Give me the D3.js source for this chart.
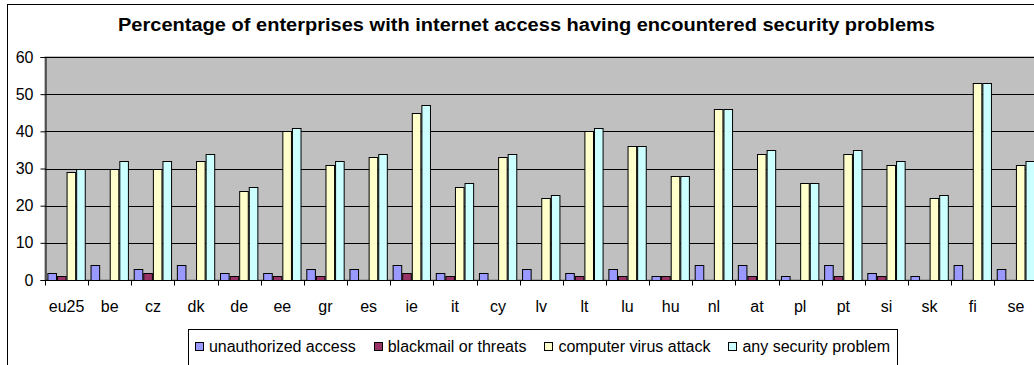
<!DOCTYPE html>
<html>
<head>
<meta charset="utf-8">
<script src="https://cdn.jsdelivr.net/npm/d3@7"></script>
<style>
  html, body { margin: 0; padding: 0; background: #fff; }
  svg { display: block; font-family: "Liberation Sans", Arial, sans-serif; }
</style>
</head>
<body>
<svg id="chart" width="1034" height="365"></svg>
<script>
// Countries (EU25 aggregate first)
const categories = ["eu25","be","cz","dk","de","ee","gr","es","ie","it","cy","lv","lt","lu","hu","nl","at","pl","pt","si","sk","fi","se"];

// Percentages per country
const unauthorizedAccess = [2,4,3,4,2,2,3,3,4,2,2,3,2,3,1,4,4,1,4,2,1,4,3];
const blackmailThreats   = [1,0,2,0,1,1,1,0,2,1,0,0,1,1,1,0,1,0,1,1,0,0,0];
const virusAttack        = [29,30,30,32,24,40,31,33,45,25,33,22,40,36,28,46,34,26,34,31,22,53,31];
const anyProblem         = [30,32,32,34,25,41,32,34,47,26,34,23,41,36,28,46,35,26,35,32,23,53,32];

const seriesNames = ["unauthorized access","blackmail or threats","computer virus attack","any security problem"];
const seriesColors = ["#9999FF","#993366","#FFFFCC","#CCFFFF"];
const yTicks = [0,10,20,30,40,50,60];
const title = "Percentage of enterprises with internet access having encountered security problems";

const seriesValues = [unauthorizedAccess, blackmailThreats, virusAttack, anyProblem];

const svg = d3.select("#chart");

// outer chart frame (continues past the right/bottom edge)
svg.append("rect")
  .attr("x", 7.5).attr("y", 4.5)
  .attr("width", 1100).attr("height", 400)
  .attr("fill", "#fff").attr("stroke", "#000").attr("stroke-width", 1);

const plot = { left: 45, right: 1037.5, top: 57, bottom: 280 };

const x0 = d3.scaleBand().domain(categories).range([plot.left, plot.right]).padding(0);
const gapRatio = 0.5; // gap between groups relative to one bar width
const barW = x0.bandwidth() / (seriesNames.length + gapRatio);
const x1 = d3.scaleBand().domain(d3.range(seriesNames.length))
  .range([0, barW * seriesNames.length]).padding(0);
const groupOffset = (x0.bandwidth() - barW * seriesNames.length) / 2;

const y = d3.scaleLinear().domain([0, 60]).range([plot.bottom, plot.top]);

// plot area
svg.append("rect")
  .attr("x", plot.left).attr("y", plot.top)
  .attr("width", plot.right - plot.left + 10).attr("height", plot.bottom - plot.top)
  .attr("fill", "#C0C0C0").attr("stroke", "#808080");

// horizontal gridlines
svg.append("g").selectAll("line")
  .data(yTicks.filter(t => t > 0))
  .join("line")
  .attr("x1", plot.left).attr("x2", 1040)
  .attr("y1", d => Math.round(y(d)) + 0.5).attr("y2", d => Math.round(y(d)) + 0.5)
  .attr("stroke", "#000").attr("stroke-width", 1);

// bars
const groups = svg.append("g").selectAll("g")
  .data(categories)
  .join("g")
  .attr("transform", d => `translate(${x0(d) + groupOffset},0)`);

groups.selectAll("rect")
  .data((c, i) => seriesValues.map((vals, s) => ({ s, v: vals[i] })).filter(d => d.v > 0))
  .join("rect")
  .attr("x", d => x1(d.s) + 0.5)
  .attr("y", d => Math.round(y(d.v)) + 0.5)
  .attr("width", barW - 1)
  .attr("height", d => Math.round(y(0)) - Math.round(y(d.v)))
  .attr("fill", d => seriesColors[d.s])
  .attr("stroke", "#000").attr("stroke-width", 1);

// y axis
const yAxis = d3.axisLeft(y).tickValues(yTicks).tickSize(5).tickPadding(7).tickFormat(d3.format("d"));
const gy = svg.append("g").attr("transform", `translate(${plot.left + 0.5},0)`).call(yAxis);
gy.select(".domain").attr("stroke", "#000");
gy.selectAll(".tick line").attr("stroke", "#000");
gy.selectAll(".tick text").attr("font-size", 16).attr("fill", "#000")
  .attr("font-family", "Liberation Sans, Arial, sans-serif");

// x axis: ticks at category boundaries, labels centered in each band
const gx = svg.append("g").attr("transform", `translate(0,${Math.round(plot.bottom) + 0.5})`);
gx.append("line").attr("x1", plot.left).attr("x2", 1040).attr("stroke", "#000");
gx.selectAll("line.tk")
  .data(categories)
  .join("line").attr("class", "tk")
  .attr("x1", d => Math.round(x0(d)) + 0.5).attr("x2", d => Math.round(x0(d)) + 0.5)
  .attr("y1", 0).attr("y2", 5).attr("stroke", "#000");
gx.selectAll("text")
  .data(categories)
  .join("text")
  .attr("x", d => x0(d) + x0.bandwidth() / 2)
  .attr("y", 31)
  .attr("text-anchor", "middle")
  .attr("font-size", 16)
  .text(d => d);

// title
svg.append("text")
  .attr("x", 526.5).attr("y", 31)
  .attr("text-anchor", "middle")
  .attr("font-size", 18).attr("font-weight", "bold")
  .attr("textLength", 817).attr("lengthAdjust", "spacingAndGlyphs")
  .text(title);

// legend
const legend = { x: 188, y: 329, w: 709, h: 40 };
svg.append("rect")
  .attr("x", legend.x + 0.5).attr("y", legend.y + 0.5)
  .attr("width", legend.w).attr("height", legend.h)
  .attr("fill", "#fff").attr("stroke", "#000");

const lg = svg.append("g");
const items = lg.selectAll("g").data(seriesNames).join("g");
items.append("rect")
  .attr("width", 8).attr("height", 8)
  .attr("y", 342.5)
  .attr("fill", (d, i) => seriesColors[i]).attr("stroke", "#000");
items.append("text")
  .attr("y", 352)
  .attr("font-size", 16)
  .text(d => d);

// lay out legend entries with measured text widths
const swatchGap = 6, itemGap = 18;
const widths = [];
items.selectAll("text").each(function () { widths.push(this.getComputedTextLength()); });
const total = d3.sum(widths) + seriesNames.length * (8 + swatchGap) + (seriesNames.length - 1) * itemGap;
let cx = legend.x + (legend.w - total) / 2;
items.each(function (d, i) {
  const g = d3.select(this);
  g.select("rect").attr("x", Math.round(cx) + 0.5);
  g.select("text").attr("x", cx + 8 + swatchGap);
  cx += 8 + swatchGap + widths[i] + itemGap;
});
</script>
</body>
</html>
